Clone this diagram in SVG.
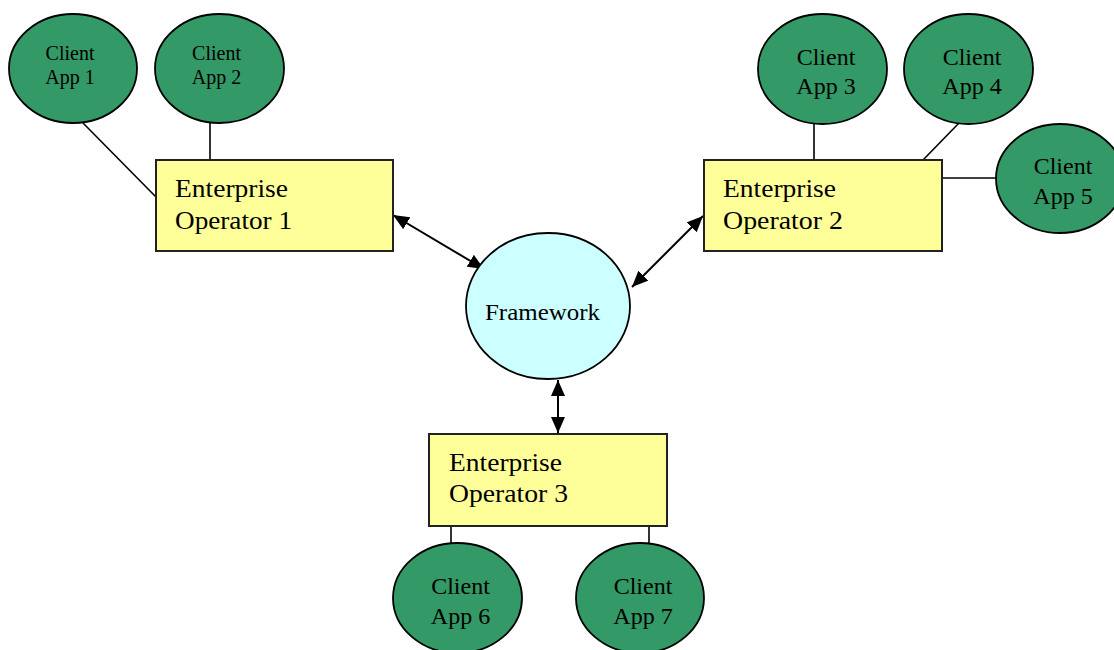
<svg xmlns="http://www.w3.org/2000/svg" width="1114" height="650" viewBox="0 0 1114 650">
<style>
.client{fill:#339966;stroke:#000;stroke-width:1.8}
.op{fill:#FFFF99;stroke:#222;stroke-width:2}
.fw{fill:#CCFFFF;stroke:#000;stroke-width:1.8}
.ln{stroke:#000;stroke-width:1.6;fill:none}
.arr{stroke:#000;stroke-width:2;fill:none;marker-start:url(#ah);marker-end:url(#ah)}
text{font-family:"Liberation Serif","Times New Roman",serif;fill:#000}
.s{font-size:20px;text-anchor:middle}
.m{font-size:24px;text-anchor:middle}
.l{font-size:26px}
</style>
<defs>
<marker id="ah" markerUnits="userSpaceOnUse" markerWidth="17" markerHeight="15" refX="16" refY="7" orient="auto-start-reverse" viewBox="0 0 17 15">
<path d="M0,0 L16,7 L0,14 z" fill="#000"/>
</marker>
</defs>
<rect width="1114" height="650" fill="#fff"/>
<g id="connectors">
<line class="ln" x1="83" y1="123" x2="156" y2="197"/>
<line class="ln" x1="210" y1="123" x2="210" y2="160"/>
<line class="ln" x1="814" y1="124" x2="814" y2="160"/>
<line class="ln" x1="959" y1="123" x2="923" y2="160"/>
<line class="ln" x1="942" y1="178" x2="996" y2="178"/>
<line class="ln" x1="451" y1="526" x2="451" y2="544"/>
<line class="ln" x1="649" y1="526" x2="649" y2="545"/>
<line class="arr" x1="393" y1="215" x2="484" y2="269"/>
<line class="arr" x1="703" y1="216" x2="632" y2="287"/>
<line class="arr" x1="558" y1="380" x2="558" y2="433"/>
</g>
<g id="client1"><ellipse class="client" cx="73" cy="68.5" rx="64" ry="54.5"/><text class="s" x="70" y="60">Client</text><text class="s" x="70" y="83.5">App 1</text></g>
<g id="client2"><ellipse class="client" cx="219.5" cy="68.5" rx="64.5" ry="54.5"/><text class="s" x="216.5" y="60">Client</text><text class="s" x="216.5" y="83.5">App 2</text></g>
<g id="client3"><ellipse class="client" cx="822.5" cy="69" rx="64.5" ry="55"/><text class="m" x="826" y="64.5">Client</text><text class="m" x="826" y="93.5">App 3</text></g>
<g id="client4"><ellipse class="client" cx="968.5" cy="69" rx="64.5" ry="55"/><text class="m" x="972" y="64.5">Client</text><text class="m" x="972" y="93.5">App 4</text></g>
<g id="client5"><ellipse class="client" cx="1060" cy="178.5" rx="64" ry="54.5"/><text class="m" x="1063" y="174">Client</text><text class="m" x="1063" y="203.5">App 5</text></g>
<g id="client6"><ellipse class="client" cx="457.5" cy="598" rx="64.5" ry="55"/><text class="m" x="460.5" y="593.5">Client</text><text class="m" x="460.5" y="623.5">App 6</text></g>
<g id="client7"><ellipse class="client" cx="640" cy="598" rx="64" ry="55"/><text class="m" x="643" y="593.5">Client</text><text class="m" x="643" y="623.5">App 7</text></g>
<g id="operator1"><rect class="op" x="156" y="160" width="237" height="91"/><text class="l" x="175" y="197" textLength="113" lengthAdjust="spacingAndGlyphs">Enterprise</text><text class="l" x="175" y="228.5" textLength="117" lengthAdjust="spacingAndGlyphs">Operator 1</text></g>
<g id="operator2"><rect class="op" x="704" y="160" width="238" height="91"/><text class="l" x="723" y="197" textLength="113" lengthAdjust="spacingAndGlyphs">Enterprise</text><text class="l" x="723" y="228.5" textLength="120" lengthAdjust="spacingAndGlyphs">Operator 2</text></g>
<g id="operator3"><rect class="op" x="429" y="434" width="238" height="92"/><text class="l" x="449" y="470.5" textLength="113" lengthAdjust="spacingAndGlyphs">Enterprise</text><text class="l" x="449" y="502" textLength="119" lengthAdjust="spacingAndGlyphs">Operator 3</text></g>
<g id="framework"><ellipse class="fw" cx="548" cy="306" rx="82" ry="73"/><text x="485" y="320" style="font-size:24px" textLength="115" lengthAdjust="spacingAndGlyphs">Framework</text></g>
</svg>
